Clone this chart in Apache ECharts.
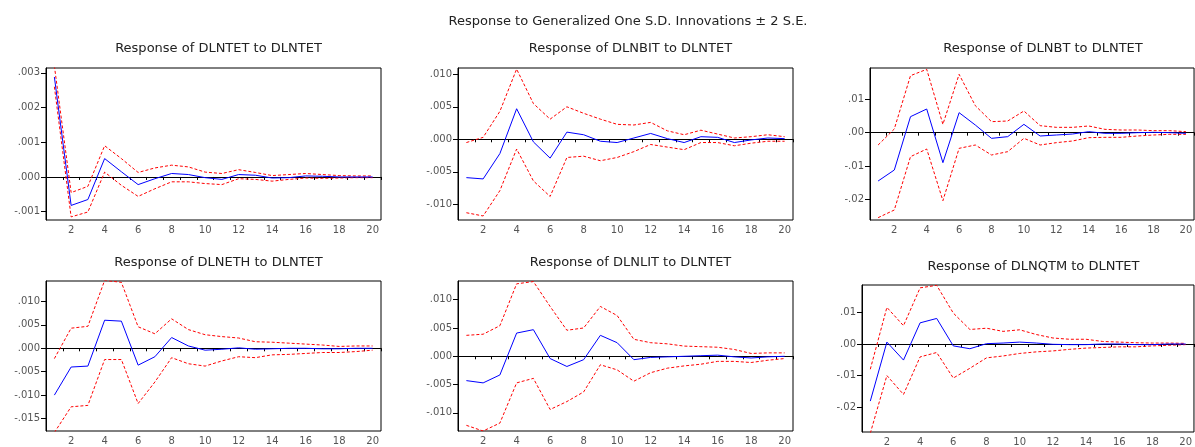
<!DOCTYPE html>
<html>
<head>
<meta charset="utf-8">
<script src="https://cdn.jsdelivr.net/npm/echarts@6/dist/echarts.min.js"></script>
<style>
  html, body { margin: 0; padding: 0; background: #fff; }
  #main { width: 1195px; height: 447px; }
</style>
</head>
<body>
<div id="main"></div>
<script>
// periods 1..20
var periods = ['1','2','3','4','5','6','7','8','9','10','11','12','13','14','15','16','17','18','19','20'];

// DLNTET to DLNTET
var tetResp  = [0.00288,-0.00082,-0.00065,0.00053,0.00015,-0.00022,-0.00005,0.00010,0.00007,-0.00002,-0.00007,0.00007,0.00005,-0.00003,-0.00002,0.00003,0.00002,0.00000,0.00000,0.00000];
var tetUpper = [0.00320,-0.00045,-0.00027,0.00090,0.00053,0.00013,0.00026,0.00034,0.00029,0.00014,0.00010,0.00021,0.00013,0.00004,0.00007,0.00010,0.00007,0.00004,0.00003,0.00003];
var tetLower = [0.00260,-0.00115,-0.00101,0.00014,-0.00024,-0.00056,-0.00034,-0.00014,-0.00014,-0.00019,-0.00022,-0.00005,-0.00007,-0.00012,-0.00007,-0.00003,-0.00004,-0.00003,-0.00002,-0.00002];

// DLNBIT to DLNTET
var bitResp  = [-0.0059,-0.0061,-0.0022,0.0047,-0.0004,-0.0029,0.0011,0.0007,-0.0003,-0.0005,0.0002,0.0009,0.0001,-0.0005,0.0004,0.0003,-0.0005,-0.0001,0.0002,0.0001];
var bitUpper = [-0.0005,0.0003,0.0043,0.0108,0.0055,0.0031,0.0050,0.0040,0.0031,0.0023,0.0022,0.0026,0.0013,0.0007,0.0014,0.0008,0.0002,0.0004,0.0007,0.0004];
var bitLower = [-0.0113,-0.0118,-0.0079,-0.0015,-0.0064,-0.0088,-0.0028,-0.0026,-0.0033,-0.0028,-0.0019,-0.0008,-0.0012,-0.0016,-0.0005,-0.0005,-0.0010,-0.0006,-0.0003,-0.0003];

// DLNBT to DLNTET
var btResp  = [-0.0145,-0.0112,0.0048,0.0071,-0.0090,0.0060,0.0023,-0.0017,-0.0012,0.0025,-0.0010,-0.0007,-0.0004,0.0003,-0.0002,-0.0002,0.0000,0.0001,0.0000,-0.0002];
var btUpper = [-0.0037,0.0011,0.0171,0.0190,0.0025,0.0175,0.0081,0.0033,0.0035,0.0065,0.0021,0.0016,0.0016,0.0020,0.0010,0.0008,0.0008,0.0006,0.0006,0.0003];
var btLower = [-0.0255,-0.0232,-0.0072,-0.0049,-0.0204,-0.0047,-0.0037,-0.0067,-0.0057,-0.0017,-0.0037,-0.0030,-0.0025,-0.0015,-0.0014,-0.0014,-0.0010,-0.0007,-0.0005,-0.0005];

// DLNETH to DLNTET
var ethResp  = [-0.0100,-0.0040,-0.0038,0.0060,0.0058,-0.0036,-0.0018,0.0023,0.0005,-0.0004,-0.0002,0.0001,-0.0002,-0.0001,0.0000,0.0000,-0.0001,-0.0001,0.0000,0.0000];
var ethUpper = [-0.0022,0.0043,0.0047,0.0145,0.0141,0.0046,0.0031,0.0063,0.0040,0.0029,0.0025,0.0022,0.0014,0.0013,0.0011,0.0009,0.0007,0.0004,0.0005,0.0005];
var ethLower = [-0.0180,-0.0125,-0.0122,-0.0024,-0.0024,-0.0118,-0.0072,-0.0020,-0.0033,-0.0038,-0.0027,-0.0018,-0.0020,-0.0014,-0.0013,-0.0011,-0.0009,-0.0009,-0.0007,-0.0004];

// DLNLIT to DLNTET
var litResp  = [-0.0043,-0.0047,-0.0033,0.0041,0.0047,-0.0004,-0.0018,-0.0006,0.0037,0.0024,-0.0006,-0.0002,-0.0001,0.0000,0.0001,0.0002,-0.0001,-0.0003,-0.0001,0.0000];
var litUpper = [0.0037,0.0039,0.0054,0.0128,0.0132,0.0088,0.0046,0.0050,0.0088,0.0072,0.0030,0.0024,0.0022,0.0018,0.0017,0.0016,0.0012,0.0005,0.0006,0.0006];
var litLower = [-0.0122,-0.0132,-0.0118,-0.0047,-0.0039,-0.0094,-0.0080,-0.0063,-0.0015,-0.0024,-0.0044,-0.0029,-0.0021,-0.0017,-0.0014,-0.0009,-0.0009,-0.0011,-0.0007,-0.0004];

// DLNQTM to DLNTET
var qtmResp  = [-0.0181,0.0006,-0.0051,0.0067,0.0081,-0.0006,-0.0015,0.0001,0.0003,0.0006,0.0003,-0.0001,-0.0002,-0.0002,0.0000,0.0000,-0.0002,-0.0002,0.0000,0.0000];
var qtmUpper = [-0.0080,0.0116,0.0058,0.0178,0.0186,0.0098,0.0046,0.0050,0.0040,0.0045,0.0030,0.0019,0.0015,0.0015,0.0008,0.0006,0.0004,0.0003,0.0003,0.0002];
var qtmLower = [-0.0283,-0.0100,-0.0160,-0.0041,-0.0027,-0.0108,-0.0077,-0.0044,-0.0038,-0.0030,-0.0025,-0.0022,-0.0017,-0.0013,-0.0011,-0.0009,-0.0009,-0.0006,-0.0004,-0.0002];

// y tick labels
var tetTicks = [-0.001, 0, 0.001, 0.002, 0.003];
var bitTicks = [-0.010, -0.005, 0, 0.005, 0.010];
var btTicks  = [-0.02, -0.01, 0, 0.01];
var ethTicks = [-0.015, -0.010, -0.005, 0, 0.005, 0.010];
var litTicks = [-0.010, -0.005, 0, 0.005, 0.010];
var qtmTicks = [-0.02, -0.01, 0, 0.01];

var panels = [
  { title: 'Response of DLNTET to DLNTET', resp: tetResp, up: tetUpper, lo: tetLower, ticks: tetTicks, dec: 3, min: -0.00124, max: 0.00314, left: 46,  top: 68,  width: 335, height: 152, ty: 37 },
  { title: 'Response of DLNBIT to DLNTET', resp: bitResp, up: bitUpper, lo: bitLower, ticks: bitTicks, dec: 3, min: -0.01242, max: 0.01097, left: 458, top: 68,  width: 335, height: 152, ty: 37 },
  { title: 'Response of DLNBT to DLNTET',  resp: btResp,  up: btUpper,  lo: btLower,  ticks: btTicks,  dec: 2, min: -0.0262,  max: 0.0194,  left: 870, top: 68,  width: 336, height: 152, ty: 37 },
  { title: 'Response of DLNETH to DLNTET', resp: ethResp, up: ethUpper, lo: ethLower, ticks: ethTicks, dec: 3, min: -0.01767, max: 0.01438, left: 46,  top: 281, width: 335, height: 150, ty: 251 },
  { title: 'Response of DLNLIT to DLNTET', resp: litResp, up: litUpper, lo: litLower, ticks: litTicks, dec: 3, min: -0.0132,  max: 0.0133,  left: 458, top: 281, width: 335, height: 150, ty: 251 },
  { title: 'Response of DLNQTM to DLNTET', resp: qtmResp, up: qtmUpper, lo: qtmLower, ticks: qtmTicks, dec: 2, min: -0.0279,  max: 0.0187,  left: 862, top: 285, width: 333, height: 150, ty: 255 }
];

function fmt(dec) {
  return function (v) {
    var s = Math.abs(v).toFixed(dec).replace(/^0/, '');
    return (v < -1e-12 ? '-' : '') + s;
  };
}

var font = 'DejaVu Sans';
var titles = [{
  text: 'Response to Generalized One S.D. Innovations \u00b1 2 S.E.',
  left: 623, top: 10, textAlign: 'center',
  textStyle: { fontFamily: font, fontSize: 13, fontWeight: 'normal', color: '#222' }
}];
var grids = [], xAxes = [], yAxes = [], series = [];

panels.forEach(function (p, i) {
  titles.push({
    text: p.title, left: p.left + p.width / 2, top: p.ty, textAlign: 'center',
    textStyle: { fontFamily: font, fontSize: 13, fontWeight: 'normal', color: '#222' }
  });
  grids.push({ left: p.left, top: p.top, width: p.width, height: p.height, show: true, borderColor: '#000', borderWidth: 1, backgroundColor: '#fff' });
  xAxes.push({
    type: 'category', gridIndex: i, data: periods, boundaryGap: true,
    axisLine: { lineStyle: { color: '#000', width: 1 } },
    axisTick: { show: true, interval: 0, length: 3, lineStyle: { color: '#000' } },
    axisLabel: {
      interval: function (idx) { return idx % 2 === 1; },
      fontFamily: font, fontSize: 10, color: '#555', margin: 5
    },
    splitLine: { show: false }
  });
  yAxes.push({
    type: 'value', gridIndex: i, min: p.min, max: p.max,
    axisLine: { show: true, lineStyle: { color: '#000', width: 1 } },
    axisTick: { show: true, length: 5, customValues: p.ticks, lineStyle: { color: '#000' } },
    axisLabel: { customValues: p.ticks, formatter: fmt(p.dec), fontFamily: font, fontSize: 10, color: '#555', margin: 6 },
    splitLine: { show: false }
  });
  series.push({
    type: 'line', xAxisIndex: i, yAxisIndex: i, data: p.up, symbol: 'none',
    lineStyle: { color: '#ff0000', width: 1, type: [3, 2] }, z: 3
  });
  series.push({
    type: 'line', xAxisIndex: i, yAxisIndex: i, data: p.lo, symbol: 'none',
    lineStyle: { color: '#ff0000', width: 1, type: [3, 2] }, z: 3
  });
  series.push({
    type: 'line', xAxisIndex: i, yAxisIndex: i, data: p.resp, symbol: 'none',
    lineStyle: { color: '#0000ff', width: 1 }, z: 4,
    markLine: {
      silent: true, symbol: 'none', label: { show: false },
      lineStyle: { color: '#000', width: 1, type: 'solid' },
      data: [{ yAxis: 0 }], z: 2
    }
  });
});

var myChart = echarts.init(document.getElementById('main'));
myChart.setOption({
  animation: false,
  backgroundColor: '#fff',
  title: titles,
  grid: grids,
  xAxis: xAxes,
  yAxis: yAxes,
  series: series
});
</script>
</body>
</html>
